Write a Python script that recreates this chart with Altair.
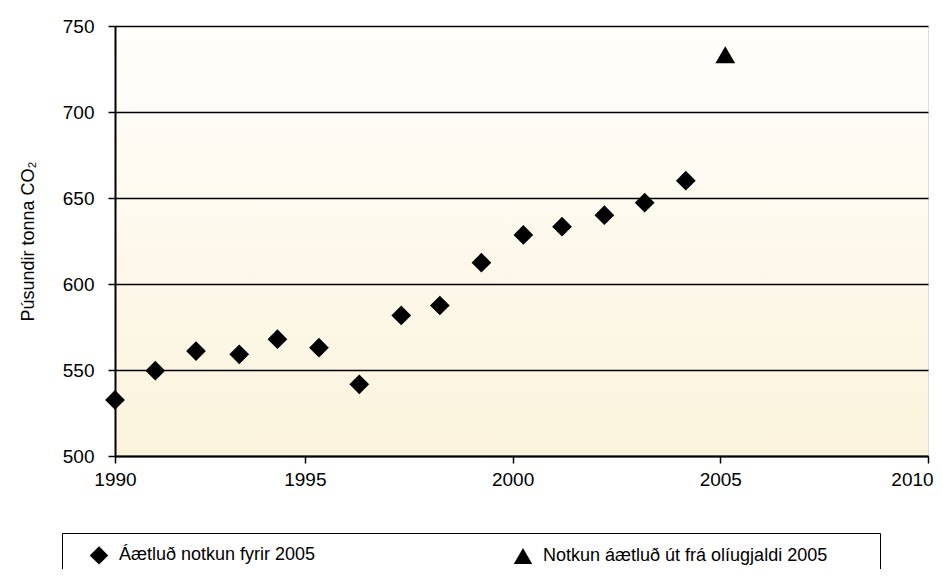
import altair as alt
import pandas as pd

# Data
years_before = [1990.43, 1991.40, 1992.38, 1993.42, 1994.34, 1995.34, 1996.31, 1997.32,
                1998.25, 1999.25, 2000.26, 2001.19, 2002.21, 2003.18, 2004.17]
values_before = [532.6, 549.6, 561.0, 559.1, 567.9, 563.0, 541.7, 581.7,
                 587.5, 612.4, 628.5, 633.3, 640.0, 647.3, 660.1]
years_fuel = [2005.12]
values_fuel = [733.3]
series_names = ["Áætluð notkun fyrir 2005", "Notkun áætluð út frá olíugjaldi 2005"]
x_ticks = [1990.43, 1995, 2000, 2005, 2010]
y_ticks = [500, 550, 600, 650, 700, 750]

df = pd.DataFrame({
    "year": years_before + years_fuel,
    "value": values_before + values_fuel,
    "series": [series_names[0]] * len(years_before) + [series_names[1]] * len(years_fuel),
})

W, H = 813, 430
FONT = "Liberation Sans"

xscale = alt.Scale(domain=[x_ticks[0], x_ticks[-1]], nice=False, zero=False)
yscale = alt.Scale(domain=[500, 750], nice=False, zero=False)

bg = alt.Chart(pd.DataFrame({"a": [0]})).mark_rect(
    fill=alt.LinearGradient(
        gradient="linear",
        stops=[alt.GradientStop(color="#FFFEFC", offset=0),
               alt.GradientStop(color="#FBF3DC", offset=1)],
        x1=0, x2=0, y1=0, y2=1,
    )
).encode(x=alt.value(0), x2=alt.value(W), y=alt.value(0), y2=alt.value(H))

pad = "\u00a0" * 8 + "\u200b"
points = alt.Chart(df).mark_point(filled=True, opacity=1, size=390, color="black").encode(
    x=alt.X("year:Q", scale=xscale, title=None,
            axis=alt.Axis(values=x_ticks, labelExpr="format(round(datum.value),'d')",
                          grid=False, tickSize=7, tickColor="black", domainColor="black",
                          domainWidth=2, tickWidth=1.5, labelFontSize=19, labelFont=FONT,
                          labelColor="black", labelPadding=7, labelFlush=False,
                          labelOffset=alt.condition("datum.value == 2010", alt.value(-16), alt.value(0)),
                          zindex=1)),
    y=alt.Y("value:Q", scale=yscale, title="Púsundir tonna CO₂",
            axis=alt.Axis(values=y_ticks, grid=True, gridColor="black", gridWidth=1.3,
                          gridOpacity=1, tickSize=7, tickColor="black", domainColor="black",
                          domainWidth=2, tickWidth=1.5, labelFontSize=19, labelFont=FONT,
                          labelColor="black", labelPadding=14, titleFont=FONT,
                          titleFontSize=18, titleFontWeight="normal", titleColor="black",
                          titlePadding=25, zindex=1)),
    shape=alt.Shape("series:N",
                    scale=alt.Scale(domain=series_names, range=["diamond", "triangle-up"]),
                    legend=alt.Legend(
                        title=None, orient="none", legendX=-53, legendY=507,
                        direction="horizontal", strokeColor="black", fillColor="white",
                        padding=12, labelFont=FONT, labelFontSize=18, labelColor="black",
                        symbolSize=340, symbolFillColor="black", symbolStrokeColor="black",
                        symbolOffset=15, labelOffset=10, columnPadding=182,
                        labelLimit=700,
                        labelExpr=f"datum.label == '{series_names[1]}' ? datum.label + '{pad}' : datum.label",
                    )),
)

chart = alt.layer(bg, points).properties(
    width=W, height=H,
    autosize=alt.AutoSizeParams(type="none"),
    padding={"left": 107, "top": 18, "right": 6, "bottom": 113},
).configure_view(stroke="black", strokeWidth=1.5).configure(background="white")

chart.save("out.html", embed_options={"renderer": "svg", "actions": False})
